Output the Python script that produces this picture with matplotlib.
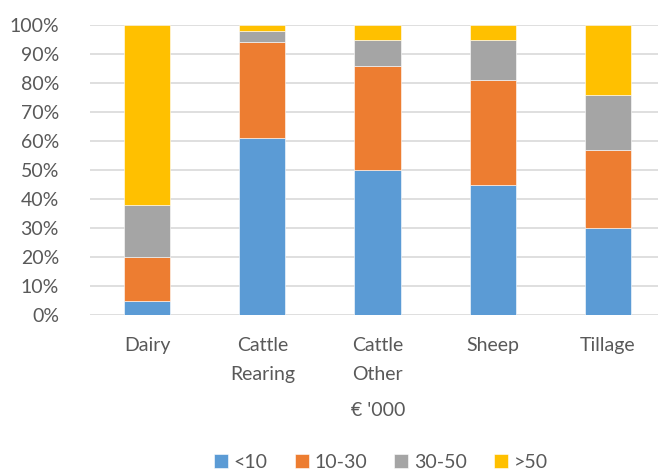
import numpy as np
import matplotlib.pyplot as plt

# Share of farms by income band (€ '000), per farm type
categories = ['Dairy', 'Cattle\nRearing', 'Cattle\nOther', 'Sheep', 'Tillage']
bands = ['<10', '10-30', '30-50', '>50']
lt10 = [5, 61, 50, 45, 30]
b10_30 = [15, 33, 36, 36, 27]
b30_50 = [18, 4, 9, 14, 19]
gt50 = [62, 2, 5, 5, 24]

colors = ['#5B9BD5', '#ED7D31', '#A5A5A5', '#FFC000']
text_col = '#595959'

plt.rcParams['font.family'] = ['Lato', 'DejaVu Sans']

fig = plt.figure(figsize=(6.58, 4.70), dpi=100)
ax = fig.add_axes([89.5 / 658, 155 / 470, 576 / 658, 290 / 470])

x = np.arange(len(categories))
bottom = np.zeros(len(categories))
for vals, lab, col in zip([lt10, b10_30, b30_50, gt50], bands, colors):
    ax.bar(x, vals, 0.4, bottom=bottom, color=col, label=lab,
           edgecolor='white', linewidth=0.4, zorder=3)
    bottom += np.array(vals)

ax.set_ylim(0, 100)
ax.set_xlim(-0.5, 4.5)
ax.set_yticks(range(0, 101, 10))
ax.set_yticklabels([f'{v}%' for v in range(0, 101, 10)])
ax.set_xticks(x)
ax.set_xticklabels(categories, linespacing=1.85)
ax.grid(axis='y', color='#D9D9D9', linewidth=1.2, zorder=0)
for s in ax.spines.values():
    s.set_visible(False)
ax.tick_params(length=0, colors=text_col, labelsize=14)
ax.tick_params(axis='x', pad=16)
ax.tick_params(axis='y', pad=22)

fig.text(378 / 658, 1 - 410 / 470, "€ '000", ha='center', va='center',
         color=text_col, fontsize=14)

leg = fig.legend(loc='center', bbox_to_anchor=(381 / 658, 1 - 462 / 470),
                 ncol=4, frameon=False, fontsize=14, handlelength=0.7,
                 handleheight=0.7, handletextpad=0.3, columnspacing=1.4)
for t in leg.get_texts():
    t.set_color(text_col)

fig.savefig('out.png', dpi=100)
